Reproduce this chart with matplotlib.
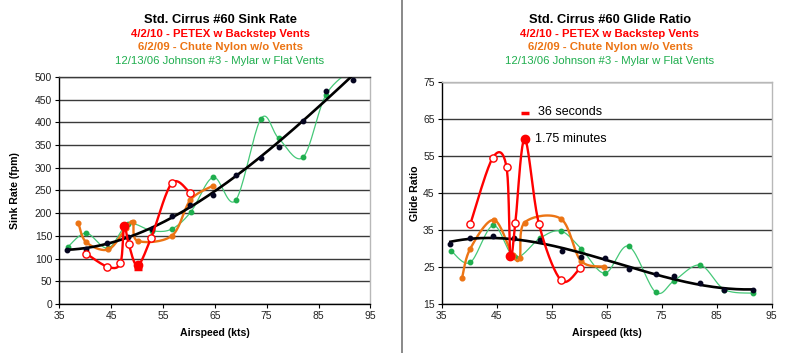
import numpy as np
import matplotlib.pyplot as plt
from matplotlib.lines import Line2D

plt.rcParams['font.family'] = ['Liberation Sans', 'DejaVu Sans']

# 4/2/10 - PETEX w Backstep Vents
petex_speed = [40.2, 44.3, 46.8, 47.5, 48.4, 50.1, 52.7, 56.7, 60.2]
petex_sink = [111, 82, 90, 172, 132, 85, 145, 266, 245]
petex_glide = [36.5, 54.5, 52.0, 28.0, 36.8, 59.5, 36.6, 21.4, 24.7]
petex_filled = [False, False, False, True, False, True, False, False, False]
# the 36 second run (not joined to the line)
short_speed = [50.2]
short_sink = [76]
short_glide = [66.5]

# 6/2/09 - Chute Nylon w/o Vents
chute_speed = [38.7, 40.2, 44.5, 47.9, 49.2, 50.1, 56.7, 60.3, 64.6]
chute_sink = [178, 136, 120, 168, 181, 139, 150, 229, 260]
chute_glide = [21.9, 29.9, 37.7, 28.2, 27.4, 37.0, 38.0, 26.7, 25.1]

# 12/13/06 Johnson #3 - Mylar w Flat Vents
johnson_speed = [36.7, 40.2, 44.4, 48.3, 52.9, 56.7, 60.4, 64.7, 69.0, 73.9, 77.3, 82.0, 86.4, 91.6]
johnson_sink = [126, 156, 123, 176, 161, 165, 203, 279, 228, 408, 365, 323, 460, 518]
johnson_glide = [29.4, 26.2, 36.2, 27.6, 32.8, 34.7, 29.9, 23.3, 30.6, 18.2, 21.3, 25.5, 18.9, 17.9]

# reference polar (black)
polar_speed = [36.6, 40.2, 44.3, 48.2, 52.9, 56.8, 60.3, 64.7, 69.0, 73.9, 77.3, 82.0, 86.4, 91.6]
polar_sink = [119, 122, 134, 147, 166, 194, 219, 240, 284, 322, 345, 404, 470, 493]
polar_glide = [31.2, 32.8, 33.4, 32.8, 32.3, 29.4, 27.6, 27.3, 24.5, 23.0, 22.6, 20.6, 18.8, 18.8]

RED = '#ff0000'
ORANGE = '#ec7414'
GREEN = '#1fae4e'
GREEN_LINE = '#45c878'


# Excel style smoothed line (bezier through the points, in screen space)
def smooth(ax, x, y, steps=20):
    pts = ax.transData.transform(np.column_stack([x, y]))
    p = np.vstack([pts[0], pts, pts[-1]])
    t = np.linspace(0, 1, steps)[1:, None]
    out = [pts[0]]
    for i in range(1, len(p) - 2):
        p0, p1, p2, p3 = p[i - 1], p[i], p[i + 1], p[i + 2]
        c1 = p1 + (p2 - p0) / 6
        c2 = p2 - (p3 - p1) / 6
        seg = (1 - t) ** 3 * p1 + 3 * (1 - t) ** 2 * t * c1 + 3 * (1 - t) * t ** 2 * c2 + t ** 3 * p2
        out.extend(seg)
    out = ax.transData.inverted().transform(np.array(out))
    return out[:, 0], out[:, 1]


def setup(ax, ylim, yticks, ylabel, top_color):
    ax.set_xlim(35, 95)
    ax.set_xticks(range(35, 96, 10))
    ax.set_ylim(*ylim)
    ax.set_yticks(yticks)
    ax.grid(axis='y', color='#3a3a3a', lw=1)
    ax.set_axisbelow(True)
    ax.spines['top'].set_color(top_color)
    ax.spines['right'].set_color('#b8b8b8')
    ax.spines['left'].set_color('black')
    ax.spines['bottom'].set_color('black')
    for s in ax.spines.values():
        s.set_linewidth(1)
    ax.tick_params(direction='out', length=3, width=0.8, labelsize=7.5,
                   labelcolor='#222222', pad=2)
    ax.set_xlabel('Airspeed (kts)', fontsize=7.6, fontweight='bold')
    ax.set_ylabel(ylabel, fontsize=7.6, fontweight='bold')


def draw(ax, which):
    if which == 'sink':
        pet, cho, joh, pol, sho = petex_sink, chute_sink, johnson_sink, polar_sink, short_sink
    else:
        pet, cho, joh, pol, sho = petex_glide, chute_glide, johnson_glide, polar_glide, short_glide

    # green
    sx, sy = smooth(ax, johnson_speed, joh)
    ax.plot(sx, sy, color=GREEN_LINE, lw=0.9, zorder=2)
    ax.plot(johnson_speed, joh, 'o', color=GREEN, ms=3.2, zorder=3)

    # orange
    sx, sy = smooth(ax, chute_speed, cho)
    ax.plot(sx, sy, color=ORANGE, lw=1.7, zorder=3)
    ax.plot(chute_speed, cho, 'o', color=ORANGE, ms=3.4, zorder=4)

    # black polar trend (polynomial trendline)
    coef = np.polyfit(polar_speed, pol, 3)
    xs = np.linspace(polar_speed[0], polar_speed[-1], 200)
    ax.plot(xs, np.polyval(coef, xs), color='black', lw=1.9, zorder=5)
    ax.plot(polar_speed, pol, 'o', color='#050520', ms=3.2, zorder=5)

    # red
    sx, sy = smooth(ax, petex_speed, pet)
    ax.plot(sx, sy, color=RED, lw=1.7, zorder=6)
    for x, y, f in zip(petex_speed, pet, petex_filled):
        ax.plot(x, y, 'o', ms=6 if f else 5.2, mec=RED, mfc=RED if f else 'white',
                mew=1, zorder=7)
    ax.plot(short_speed, sho, '_', color=RED, ms=6, mew=2.5, zorder=7)


fig = plt.figure(figsize=(8, 3.53), dpi=100)
ax1 = fig.add_axes([0.074, 0.139, 0.389, 0.643])
ax2 = fig.add_axes([0.552, 0.139, 0.4125, 0.629])

setup(ax1, (0, 500), range(0, 501, 50), 'Sink Rate (fpm)', '#3a3a3a')
setup(ax2, (15, 75), range(15, 76, 10), 'Glide Ratio', '#b8b8b8')
ax1.yaxis.set_label_coords(-0.125, 0.5)
ax2.yaxis.set_label_coords(-0.066, 0.5)
ax1.xaxis.set_label_coords(0.5, -0.105)
ax2.xaxis.set_label_coords(0.5, -0.108)

draw(ax1, 'sink')
draw(ax2, 'glide')

ax2.text(52.0, 59.6, '1.75 minutes', fontsize=9, va='center', ha='left')
ax2.text(52.5, 67.0, '36 seconds', fontsize=9, va='center', ha='left')

# titles
for cx, name in [(0.275, 'Std. Cirrus #60 Sink Rate'), (0.7625, 'Std. Cirrus #60 Glide Ratio')]:
    fig.text(cx, 1 - 20 / 353, name, ha='center', va='center', fontsize=9.3, fontweight='bold')
    fig.text(cx, 1 - 34 / 353, '4/2/10 - PETEX w Backstep Vents', ha='center', va='center',
             fontsize=8.2, fontweight='bold', color=RED)
    fig.text(cx, 1 - 47.5 / 353, '6/2/09 - Chute Nylon w/o Vents', ha='center', va='center',
             fontsize=8.2, fontweight='bold', color=ORANGE)
    fig.text(cx, 1 - 61 / 353, '12/13/06 Johnson #3 - Mylar w Flat Vents', ha='center', va='center',
             fontsize=8.2, color=GREEN)

# divider between the two charts
fig.add_artist(Line2D([0.502, 0.502], [0, 1], color='#808080', lw=1.3))

fig.savefig('out.png', dpi=100)
